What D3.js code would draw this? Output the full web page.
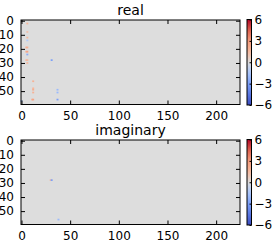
<!DOCTYPE html>
<html>
<head>
<meta charset="utf-8">
<script src="https://cdn.jsdelivr.net/npm/d3@7"></script>
<style>
  html, body { margin: 0; padding: 0; background: #fff; }
  text { font-family: "DejaVu Sans", sans-serif; }
</style>
</head>
<body>
<div id="chart"></div>
<script>
// image size (rows x cols)
const nRows = 60;
const nCols = 225;
// nonzero cells: [row, col, value]
const realCells = [
  [2, 6, 1.5], [8, 6, 1.2], [12, 6, 1.5], [14, 6, -1.3],
  [19, 5, 2], [19, 6, 2], [22, 5, 2], [22, 6, 2.5], [24, 6, -2.5],
  [28, 5, 1.5], [28, 6, 1.5], [30, 6, 1.5], [28, 31, -3],
  [43, 12, 1.8], [48, 12, 1.5], [49, 12, 2], [51, 12, 1.8], [56, 11, 2], [56, 12, 2.5],
  [49, 37, -2], [51, 37, -2], [56, 37, -3], [57, 0, -1.5]
];
const imagCells = [
  [28, 30, 1.5], [28, 31, -3], [56, 38, -2]
];
const xTicks = [0, 50, 100, 150, 200];
const yTicks = [0, 10, 20, 30, 40, 50];
const cbTicks = [6, 3, 0, -3, -6];
const panels = [
  {title: "real", cells: realCells},
  {title: "imaginary", cells: imagCells}
];

// coolwarm colormap
const coolwarm = d3.scaleLinear()
  .domain([0, 0.125, 0.25, 0.375, 0.5, 0.625, 0.75, 0.875, 1])
  .range(["#3b4cc0", "#5977e3", "#7b9ff9", "#aac7fd", "#dddddd", "#f7b89c", "#f49a7b", "#de604d", "#b40426"]);
const norm = d3.scaleLinear().domain([-6, 6]).range([0, 1]).clamp(true);
const color = v => coolwarm(norm(v));

const width = 274, height = 244;
const svg = d3.select("#chart").append("svg")
  .attr("width", width).attr("height", height);

const grad = svg.append("defs").append("linearGradient")
  .attr("id", "cw").attr("x1", 0).attr("y1", 1).attr("x2", 0).attr("y2", 0);
d3.range(0, 1.0001, 0.05).forEach(t => {
  grad.append("stop").attr("offset", t).attr("stop-color", coolwarm(t));
});

const x = d3.scaleLinear().domain([-0.5, nCols - 0.5]).range([21, 240]);
const tops = [20, 140];
const axH = 84.5;

panels.forEach((p, i) => {
  const top = tops[i];
  const y = d3.scaleLinear().domain([-0.5, nRows - 0.5]).range([top, top + axH]);
  const g = svg.append("g");

  g.append("rect")
    .attr("x", x(-0.5)).attr("y", y(-0.5))
    .attr("width", x(nCols - 0.5) - x(-0.5))
    .attr("height", y(nRows - 0.5) - y(-0.5))
    .attr("fill", color(0));

  // cells, slightly widened like the smoothed image
  g.selectAll(".cell").data(p.cells).enter().append("rect")
    .attr("class", "cell")
    .attr("x", d => x(d[1] - 1))
    .attr("y", d => y(d[0] - 0.6))
    .attr("width", d => x(d[1] + 1) - x(d[1] - 1))
    .attr("height", d => y(d[0] + 0.6) - y(d[0] - 0.6))
    .attr("fill", d => color(d[2]));

  // axes with inward ticks on all sides
  g.append("g").attr("transform", "translate(0," + y(nRows - 0.5) + ")")
    .call(d3.axisBottom(x).tickValues(xTicks).tickSizeInner(-4).tickSizeOuter(0).tickPadding(7))
    .call(a => a.select(".domain").remove());
  g.append("g").attr("transform", "translate(0," + y(-0.5) + ")")
    .call(d3.axisTop(x).tickValues(xTicks).tickSizeInner(-4).tickSizeOuter(0).tickFormat(""))
    .call(a => a.select(".domain").remove());
  g.append("g").attr("transform", "translate(" + x(-0.5) + ",0)")
    .call(d3.axisLeft(y).tickValues(yTicks).tickSizeInner(-4).tickSizeOuter(0).tickPadding(7))
    .call(a => a.select(".domain").remove());
  g.append("g").attr("transform", "translate(" + x(nCols - 0.5) + ",0)")
    .call(d3.axisRight(y).tickValues(yTicks).tickSizeInner(-4).tickSizeOuter(0).tickFormat(""))
    .call(a => a.select(".domain").remove());
  g.selectAll(".tick text").attr("font-size", 12).attr("fill", "#000")
    .attr("font-family", "DejaVu Sans, sans-serif");
  g.selectAll(".tick line").attr("stroke", "#000");

  g.append("rect")
    .attr("x", x(-0.5)).attr("y", y(-0.5))
    .attr("width", x(nCols - 0.5) - x(-0.5))
    .attr("height", y(nRows - 0.5) - y(-0.5))
    .attr("fill", "none").attr("stroke", "#000").attr("stroke-width", 1);

  g.append("text")
    .attr("x", (x(-0.5) + x(nCols - 0.5)) / 2)
    .attr("y", top - 5)
    .attr("text-anchor", "middle")
    .attr("font-size", 14)
    .text(p.title);

  // colorbar
  const cy = d3.scaleLinear().domain([-6, 6]).range([top + axH + 0.5, top - 0.5]);
  const cb = svg.append("g");
  cb.append("rect")
    .attr("x", 247).attr("y", cy(6))
    .attr("width", 4.5).attr("height", cy(-6) - cy(6))
    .attr("fill", "url(#cw)")
    .attr("stroke", "#000").attr("stroke-width", 1);
  cb.append("g").attr("transform", "translate(251.5,0)")
    .call(d3.axisRight(cy).tickValues(cbTicks).tickSizeInner(-2).tickSizeOuter(0).tickPadding(3)
      .tickFormat(d => d < 0 ? "\u2212" + Math.abs(d) : d))
    .call(a => a.select(".domain").remove())
    .call(a => a.selectAll("text").attr("font-size", 12).attr("fill", "#000")
      .attr("font-family", "DejaVu Sans, sans-serif"))
    .call(a => a.selectAll("line").attr("stroke", "#000"));
});
</script>
</body>
</html>
